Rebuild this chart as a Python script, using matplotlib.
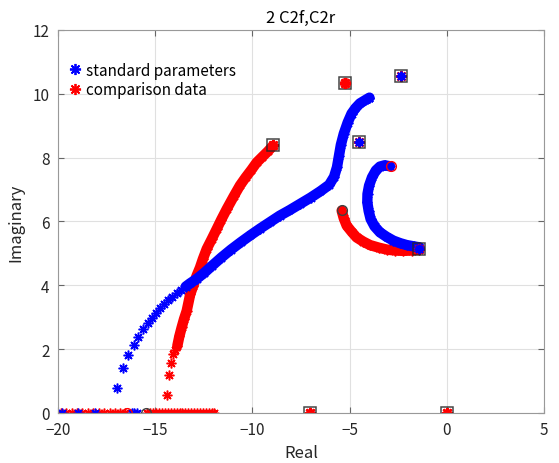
import numpy as np
import matplotlib
matplotlib.use('Agg')
import matplotlib.pyplot as plt
from matplotlib.lines import Line2D

plt.rcParams['font.family'] = ['Noto Sans CJK JP', 'DejaVu Sans']

# ---- standard parameters (blue) ----
# upper branch, pole at -4.0+9.9j down towards the real axis (dense part)
std_b1_re = [-3.98, -4.2, -4.47, -4.7, -4.9, -5.1, -5.3, -5.45, -5.55, -5.65, -5.8, -6.05,
             -6.5, -7.0, -7.55, -8.1, -8.6, -9.1, -9.6, -10.1, -10.6, -11.1, -11.6, -12.1,
             -12.5, -12.87, -13.21, -13.43]
std_b1_im = [9.88, 9.8, 9.7, 9.55, 9.38, 9.1, 8.75, 8.4, 8.05, 7.7, 7.4, 7.15,
             6.95, 6.75, 6.55, 6.35, 6.18, 5.98, 5.78, 5.57, 5.35, 5.12, 4.87, 4.6,
             4.38, 4.2, 4.06, 3.96]
# same branch, sparse tail near the real axis
std_tail_re = [-13.67, -13.9, -14.14, -14.33, -14.55, -14.75, -14.96, -15.16, -15.39,
               -15.61, -15.87, -16.11, -16.38, -16.64, -16.95]
std_tail_im = [3.86, 3.75, 3.63, 3.53, 3.40, 3.28, 3.13, 2.98, 2.81,
               2.62, 2.38, 2.12, 1.81, 1.41, 0.78]
# hook from the zero at -2.9+7.7j to the pole at -1.4+5.1j
std_b2_re = [-2.92, -3.2, -3.44, -3.65, -3.85, -4.0, -4.08, -4.09, -4.02, -3.92, -3.72,
             -3.44, -3.1, -2.75, -2.4, -2.06, -1.7, -1.41]
std_b2_im = [7.73, 7.76, 7.72, 7.6, 7.38, 7.12, 6.86, 6.6, 6.33, 6.08, 5.85,
             5.66, 5.52, 5.4, 5.32, 5.26, 5.22, 5.19]
std_axis_re = [-19.81, -18.96, -18.1, -16.21, -16.08, -15.95]
std_poles_re = [-3.98, -2.36, -4.52, -1.41, -7.04, 0.0]
std_poles_im = [9.88, 10.55, 8.50, 5.14, 0.0, 0.0]

# ---- comparison data (red) ----
cmp_b1_re = [-8.95, -9.2, -9.5, -9.78, -10.05, -10.35, -10.64, -10.95, -11.32, -11.6,
             -11.84, -12.1, -12.35, -12.55, -12.7, -12.87, -13.04, -13.2, -13.38,
             -13.52, -13.64, -13.76, -13.86]
cmp_b1_im = [8.37, 8.2, 8.02, 7.85, 7.62, 7.38, 7.13, 6.8, 6.39, 6.06,
             5.76, 5.44, 5.14, 4.82, 4.55, 4.3, 3.99, 3.72, 3.2,
             2.94, 2.68, 2.4, 2.11]
cmp_tail_re = [-13.96, -14.07, -14.19, -14.27, -14.38]
cmp_tail_im = [1.96, 1.85, 1.57, 1.19, 0.57]
# branch from the zero at -5.4+6.4j to the pole at -1.4+5.1j
cmp_b2_re = [-5.41, -5.3, -5.15, -4.9, -4.64, -4.3, -3.95, -3.5, -3.09, -2.66, -2.24, -1.8, -1.41]
cmp_b2_im = [6.34, 6.1, 5.87, 5.68, 5.5, 5.37, 5.26, 5.18, 5.12, 5.09, 5.08, 5.09, 5.12]
cmp_axis_sparse_re = [-19.85, -19.58, -19.3, -19.02, -18.75, -18.47, -18.2, -17.9, -17.62,
                      -17.35, -17.07, -16.8, -16.55]
cmp_axis_dense_re = [-15.4, -15.25, -15.1, -14.95, -14.8, -14.65, -14.5, -14.35, -14.2,
                     -14.05, -13.9, -13.75, -13.6, -13.45, -13.3, -13.15, -13.0, -12.85,
                     -12.7, -12.55, -12.4, -12.25, -12.1, -11.98]
cmp_poles_re = [-8.92, -5.24, -2.36, -4.52, -1.41, -7.04, 0.0]
cmp_poles_im = [8.40, 10.34, 10.55, 8.50, 5.14, 0.0, 0.0]

# zeros (circles)
red_zeros_re = [-2.89, -16.45, -5.24]
red_zeros_im = [7.73, 0.0, 10.34]
dark_zeros_re = [-5.41, -15.48]
dark_zeros_im = [6.37, 0.0]

blue = (0.0, 0.0, 1.0)
red = (1.0, 0.0, 0.0)
ast = (8, 2, 0)  # matlab-like asterisk

fig = plt.figure(figsize=(5.59, 4.64), dpi=100)
ax = fig.add_axes([0.1038, 0.1078, 0.8694, 0.8254])

band = dict(lw=7.5, solid_capstyle='round', solid_joinstyle='round')
star = dict(marker=ast, ms=7, mew=1.1)

# comparison data first, blue goes on top
ax.plot(cmp_b1_re, cmp_b1_im, color=red, **band)
ax.plot(cmp_b1_re, cmp_b1_im, ls='none', color=red, **star)
ax.plot(cmp_tail_re, cmp_tail_im, ls='none', color=red, **star)
ax.plot(cmp_b2_re, cmp_b2_im, color=red, **band)
ax.plot(cmp_b2_re, cmp_b2_im, ls='none', color=red, **star)
ax.plot(cmp_axis_sparse_re, np.zeros(len(cmp_axis_sparse_re)), ls='none', color=red, **star)
ax.plot(cmp_axis_dense_re, np.zeros(len(cmp_axis_dense_re)), ls='none', color=red, **star)

ax.plot(std_b1_re, std_b1_im, color=blue, **band)
ax.plot(std_b1_re, std_b1_im, ls='none', color=blue, **star)
ax.plot(std_tail_re, std_tail_im, ls='none', color=blue, **star)
ax.plot(std_b2_re, std_b2_im, color=blue, **band)
ax.plot(std_b2_re, std_b2_im, ls='none', color=blue, **star)
ax.plot(std_axis_re, np.zeros(len(std_axis_re)), ls='none', color=blue, **star)

# pole markers: both series' stars, then the square outline
ax.plot(cmp_poles_re, cmp_poles_im, ls='none', color=red, marker=ast, ms=8, mew=1.6)
ax.plot(std_poles_re[:5], std_poles_im[:5], ls='none', color=blue, marker=ast, ms=7, mew=1.4)
ax.plot(cmp_poles_re[5:], cmp_poles_im[5:], ls='none', color=red, marker=ast, ms=8, mew=1.8)
ax.plot(cmp_poles_re, cmp_poles_im, ls='none', marker='s', ms=9, mfc='none',
        mec=(0.15, 0.15, 0.15), mew=1.1, alpha=0.85)

ax.plot(red_zeros_re, red_zeros_im, ls='none', marker='o', ms=7, mfc='none', mec=red, mew=1)
ax.plot(dark_zeros_re, dark_zeros_im, ls='none', marker='o', ms=7, mfc='none',
        mec=(0.25, 0.25, 0.25), mew=1)

ax.set_xlim(-20, 5)
ax.set_ylim(0, 12)
ax.set_xticks([-20, -15, -10, -5, 0, 5])
ax.set_yticks([0, 2, 4, 6, 8, 10, 12])
ax.grid(True, color=(0.88, 0.88, 0.88), lw=0.8)
ax.set_axisbelow(True)
for s in ax.spines.values():
    s.set_color((0.6, 0.6, 0.6))
ax.tick_params(direction='in', top=True, right=True, length=4, color=(0.4, 0.4, 0.4),
               labelsize=11, labelcolor=(0.15, 0.15, 0.15), pad=6)
ax.set_xlabel('Real', fontsize=12, color=(0.15, 0.15, 0.15), labelpad=4)
ax.set_ylabel('Imaginary', fontsize=12, color=(0.15, 0.15, 0.15), labelpad=6)
ax.set_title('2 C2f,C2r', fontsize=12, pad=6)

handles = [Line2D([], [], ls='none', marker=ast, color=blue, ms=8, mew=1.3),
           Line2D([], [], ls='none', marker=ast, color=red, ms=8, mew=1.3)]
ax.legend(handles, ['standard parameters', 'comparison data'], loc='upper left',
          bbox_to_anchor=(0.0, 0.945), frameon=False, fontsize=11, handlelength=0.8,
          handletextpad=0.3, borderaxespad=0.3, labelspacing=0.15)

fig.savefig('out.png', dpi=100)
